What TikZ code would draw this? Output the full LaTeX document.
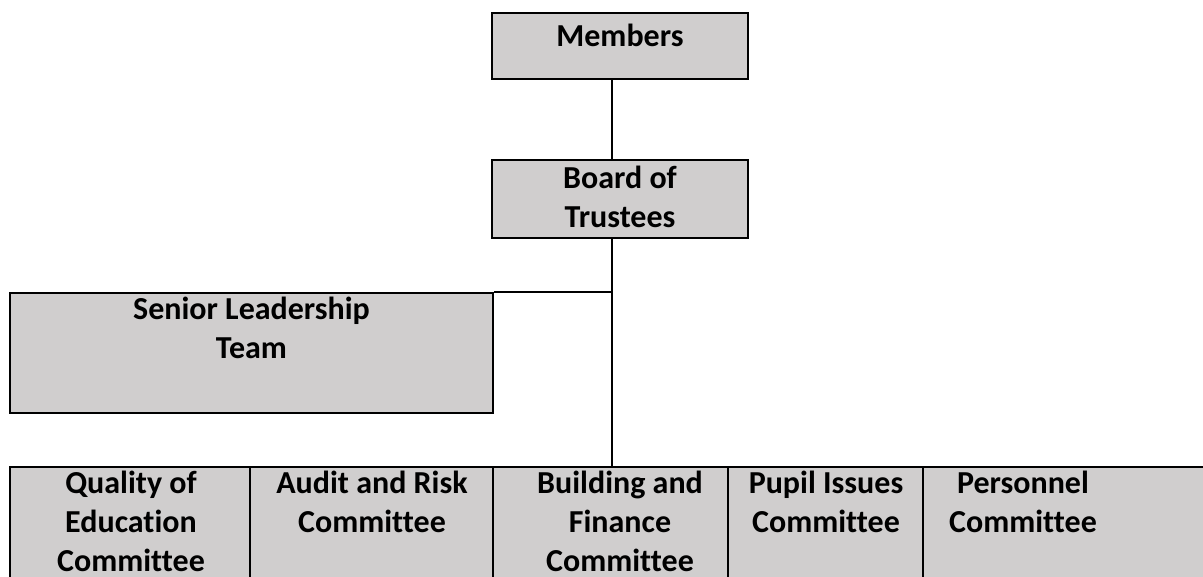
\documentclass[tikz,border=0pt]{standalone}
\usepackage{fontspec}
\setmainfont{Carlito}[Ligatures=CommonOff]
\usepackage{tikz}

\definecolor{boxgray}{RGB}{208,206,206}
\tikzset{
    box/.style={draw=black, fill=boxgray, line width=2.5pt, inner sep=0pt},
    boxtext/.style={anchor=north, align=center, inner sep=0pt,
        font=\fontsize{32}{39}\selectfont\bfseries, execute at begin node=\strut},
    link/.style={line width=2.2pt}
}

\begin{document}
\begin{tikzpicture}[x=1pt, y=-1pt]
    \useasboundingbox (0,0) rectangle (1203,577);
    \clip (0,0) rectangle (1203,577);
    % boxes
    \node[box, minimum width=256pt, minimum height=66pt] (members) at (620,46) {};
    \node[box, minimum width=256pt, minimum height=78pt] (board) at (620,199) {};
    \node[box, minimum width=483pt, minimum height=120pt] (slt) at (251.5,353) {};
    \node[box, minimum width=240pt, minimum height=153pt] (quality) at (130,543.5) {};
    \node[box, minimum width=243pt, minimum height=153pt] (audit) at (371.5,543.5) {};
    \node[box, minimum width=235pt, minimum height=153pt] (building) at (610.5,543.5) {};
    \node[box, minimum width=195pt, minimum height=153pt] (pupil) at (825.5,543.5) {};
    \node[box, minimum width=297pt, minimum height=153pt] (personnel) at (1071.5,543.5) {};
    % texts (first baseline about 31pt below the box top)
    \node[boxtext] (memberstext) at (620,18.7) {Members};
    \node[boxtext] (boardtext) at (620,165.7) {Board of\\Trustees};
    \node[boxtext] (slttext) at (251.5,296.7) {Senior Leadership\\Team};
    \node[boxtext] (qualitytext) at (131,470.7) {Quality of\\Education\\Committee};
    \node[boxtext] (audittext) at (372,470.7) {Audit and Risk\\Committee};
    \node[boxtext] (buildingtext) at (620,470.7) {Building and\\Finance\\Committee};
    \node[boxtext] (pupiltext) at (826,470.7) {Pupil Issues\\Committee};
    \node[boxtext] (personneltext) at (1023,470.7) {Personnel\\Committee};
    % connectors
    \coordinate (trunk) at ([xshift=-8pt]board.south |- slt.north);
    \draw[link] ([xshift=-8pt]members.south) -- ([xshift=-8pt]board.north);
    \draw[link] ([xshift=-8pt]board.south) -- ([xshift=-8pt]board.south |- building.north);
    \draw[link] (slt.north east) -- (trunk);
\end{tikzpicture}
\end{document}
